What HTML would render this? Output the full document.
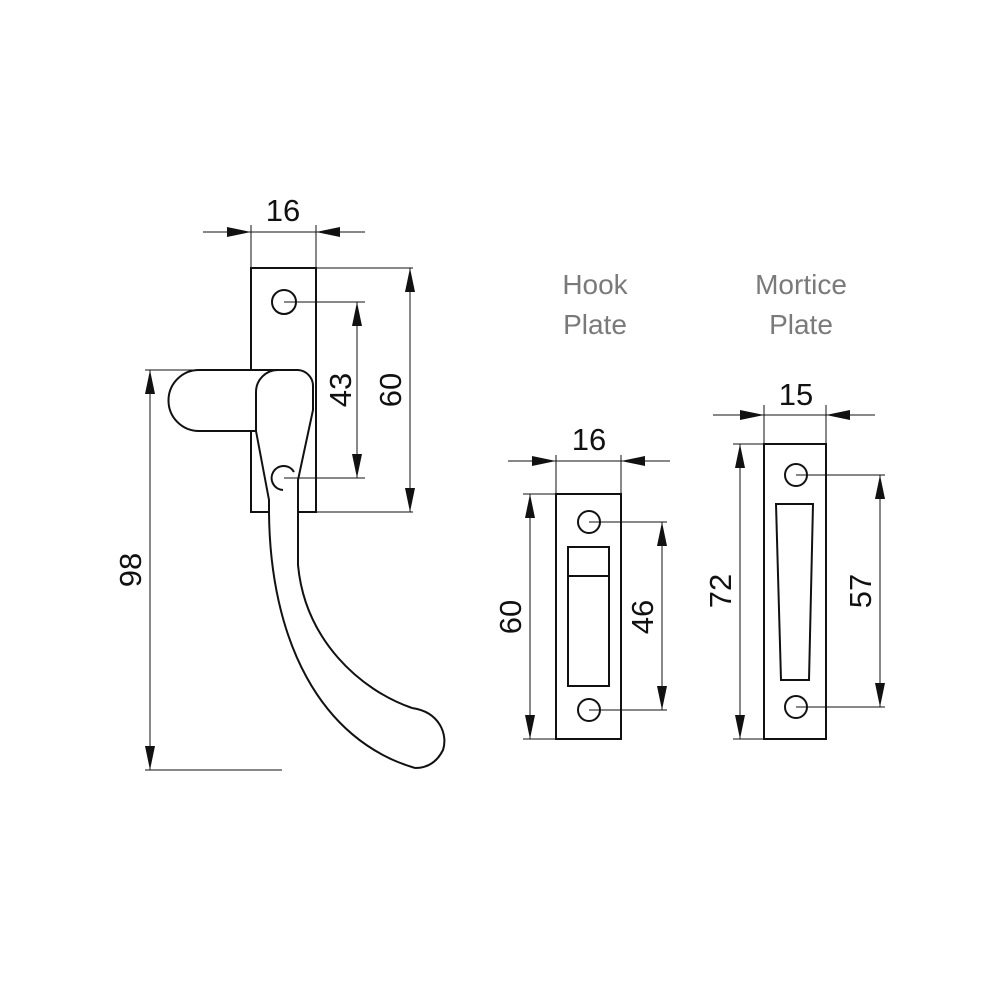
<!DOCTYPE html>
<html><head><style>
html,body{margin:0;padding:0;background:#fff;}
svg{display:block;}
.t{font-family:"Liberation Sans",sans-serif;font-size:31px;fill:#111;text-anchor:middle;}
.g{font-family:"Liberation Sans",sans-serif;font-size:28px;fill:#7a7a7a;text-anchor:middle;}
</style></head><body>
<svg width="1000" height="1000" viewBox="0 0 1000 1000" xmlns="http://www.w3.org/2000/svg">
<g fill="none" stroke="#111" stroke-width="2">
<!-- handle plate -->
<path d="M251,370 L251,268 L316,268 L316,512 L298,512 M269,512 L251,512 L251,431"/>
<circle cx="284" cy="302" r="12"/>
<path d="M294,472 A12,12 0 1 0 283,490"/>
<!-- lever -->
<path d="M256,431 L199,431 A30.5,30.5 0 0 1 199,370 L298,370 A16,16 0 0 1 313,386 L313,410 L298,480 L298,512"/>
<path d="M256,431 L256,392 A22,22 0 0 1 278,370"/>
<path d="M256,431 L269,500 L269,512"/>
<!-- grip -->
<path d="M269,512 C270,640 320,740 415,768"/>
<path d="M298,512 L298,565 C305,640 360,690 412,708"/>
<path d="M412,708 C440,712 448,735 443,750 C436,764 425,768 415,768"/>
<!-- hook plate -->
<rect x="556" y="494" width="65" height="245"/>
<circle cx="589" cy="522" r="11"/>
<circle cx="589" cy="710" r="11"/>
<rect x="568" y="547" width="41" height="139"/>
<line x1="568" y1="576" x2="609" y2="576"/>
<!-- mortice plate -->
<rect x="764" y="444" width="62" height="295"/>
<circle cx="796" cy="475" r="11"/>
<circle cx="796" cy="707" r="11"/>
<path d="M776,504 L813,504 L809,680 L781,680 Z"/>
</g>
<g stroke="#111" stroke-width="1" fill="none">
<line x1="203" y1="232" x2="365" y2="232"/>
<line x1="251" y1="225" x2="251" y2="268"/>
<line x1="316" y1="225" x2="316" y2="268"/>
<line x1="316" y1="268" x2="413" y2="268"/>
<line x1="316" y1="512" x2="413" y2="512"/>
<line x1="410" y1="268" x2="410" y2="512"/>
<line x1="284" y1="302" x2="365" y2="302"/>
<line x1="284" y1="478" x2="365" y2="478"/>
<line x1="357" y1="302" x2="357" y2="478"/>
<line x1="145" y1="370" x2="199" y2="370"/>
<line x1="145" y1="770" x2="282" y2="770"/>
<line x1="150" y1="370" x2="150" y2="770"/>
<line x1="508" y1="461" x2="670" y2="461"/>
<line x1="556" y1="455" x2="556" y2="494"/>
<line x1="621" y1="455" x2="621" y2="494"/>
<line x1="523" y1="494" x2="556" y2="494"/>
<line x1="523" y1="739" x2="556" y2="739"/>
<line x1="530" y1="494" x2="530" y2="739"/>
<line x1="589" y1="522" x2="667" y2="522"/>
<line x1="589" y1="710" x2="667" y2="710"/>
<line x1="662" y1="522" x2="662" y2="710"/>
<line x1="713" y1="415" x2="875" y2="415"/>
<line x1="764" y1="405" x2="764" y2="444"/>
<line x1="826" y1="405" x2="826" y2="444"/>
<line x1="733" y1="444" x2="764" y2="444"/>
<line x1="733" y1="739" x2="764" y2="739"/>
<line x1="740" y1="444" x2="740" y2="739"/>
<line x1="796" y1="475" x2="885" y2="475"/>
<line x1="796" y1="707" x2="885" y2="707"/>
<line x1="880" y1="475" x2="880" y2="707"/>
</g>
<g fill="#111">
<polygon points="251,232 227,227 227,237"/><polygon points="316,232 340,227 340,237"/>
<polygon points="556,461 532,456 532,466"/><polygon points="621,461 645,456 645,466"/>
<polygon points="764,415 740,410 740,420"/><polygon points="826,415 850,410 850,420"/>
<polygon points="410,268 405,292 415,292"/><polygon points="410,512 405,488 415,488"/>
<polygon points="357,302 352,326 362,326"/><polygon points="357,478 352,454 362,454"/>
<polygon points="150,370 145,394 155,394"/><polygon points="150,770 145,746 155,746"/>
<polygon points="530,494 525,518 535,518"/><polygon points="530,739 525,715 535,715"/>
<polygon points="662,522 657,546 667,546"/><polygon points="662,710 657,686 667,686"/>
<polygon points="740,444 735,468 745,468"/><polygon points="740,739 735,715 745,715"/>
<polygon points="880,475 875,499 885,499"/><polygon points="880,707 875,683 885,683"/>
</g>
<text class="t" x="283" y="221">16</text>
<text class="t" x="589" y="450">16</text>
<text class="t" x="796" y="405">15</text>
<text class="t" transform="translate(351,390) rotate(-90)">43</text>
<text class="t" transform="translate(401,390) rotate(-90)">60</text>
<text class="t" transform="translate(141,570) rotate(-90)">98</text>
<text class="t" transform="translate(521,617) rotate(-90)">60</text>
<text class="t" transform="translate(653,617) rotate(-90)">46</text>
<text class="t" transform="translate(731,591) rotate(-90)">72</text>
<text class="t" transform="translate(871,591) rotate(-90)">57</text>
<text class="g" x="595" y="294">Hook</text>
<text class="g" x="595" y="334">Plate</text>
<text class="g" x="801" y="294">Mortice</text>
<text class="g" x="801" y="334">Plate</text>
</svg>
</body></html>
